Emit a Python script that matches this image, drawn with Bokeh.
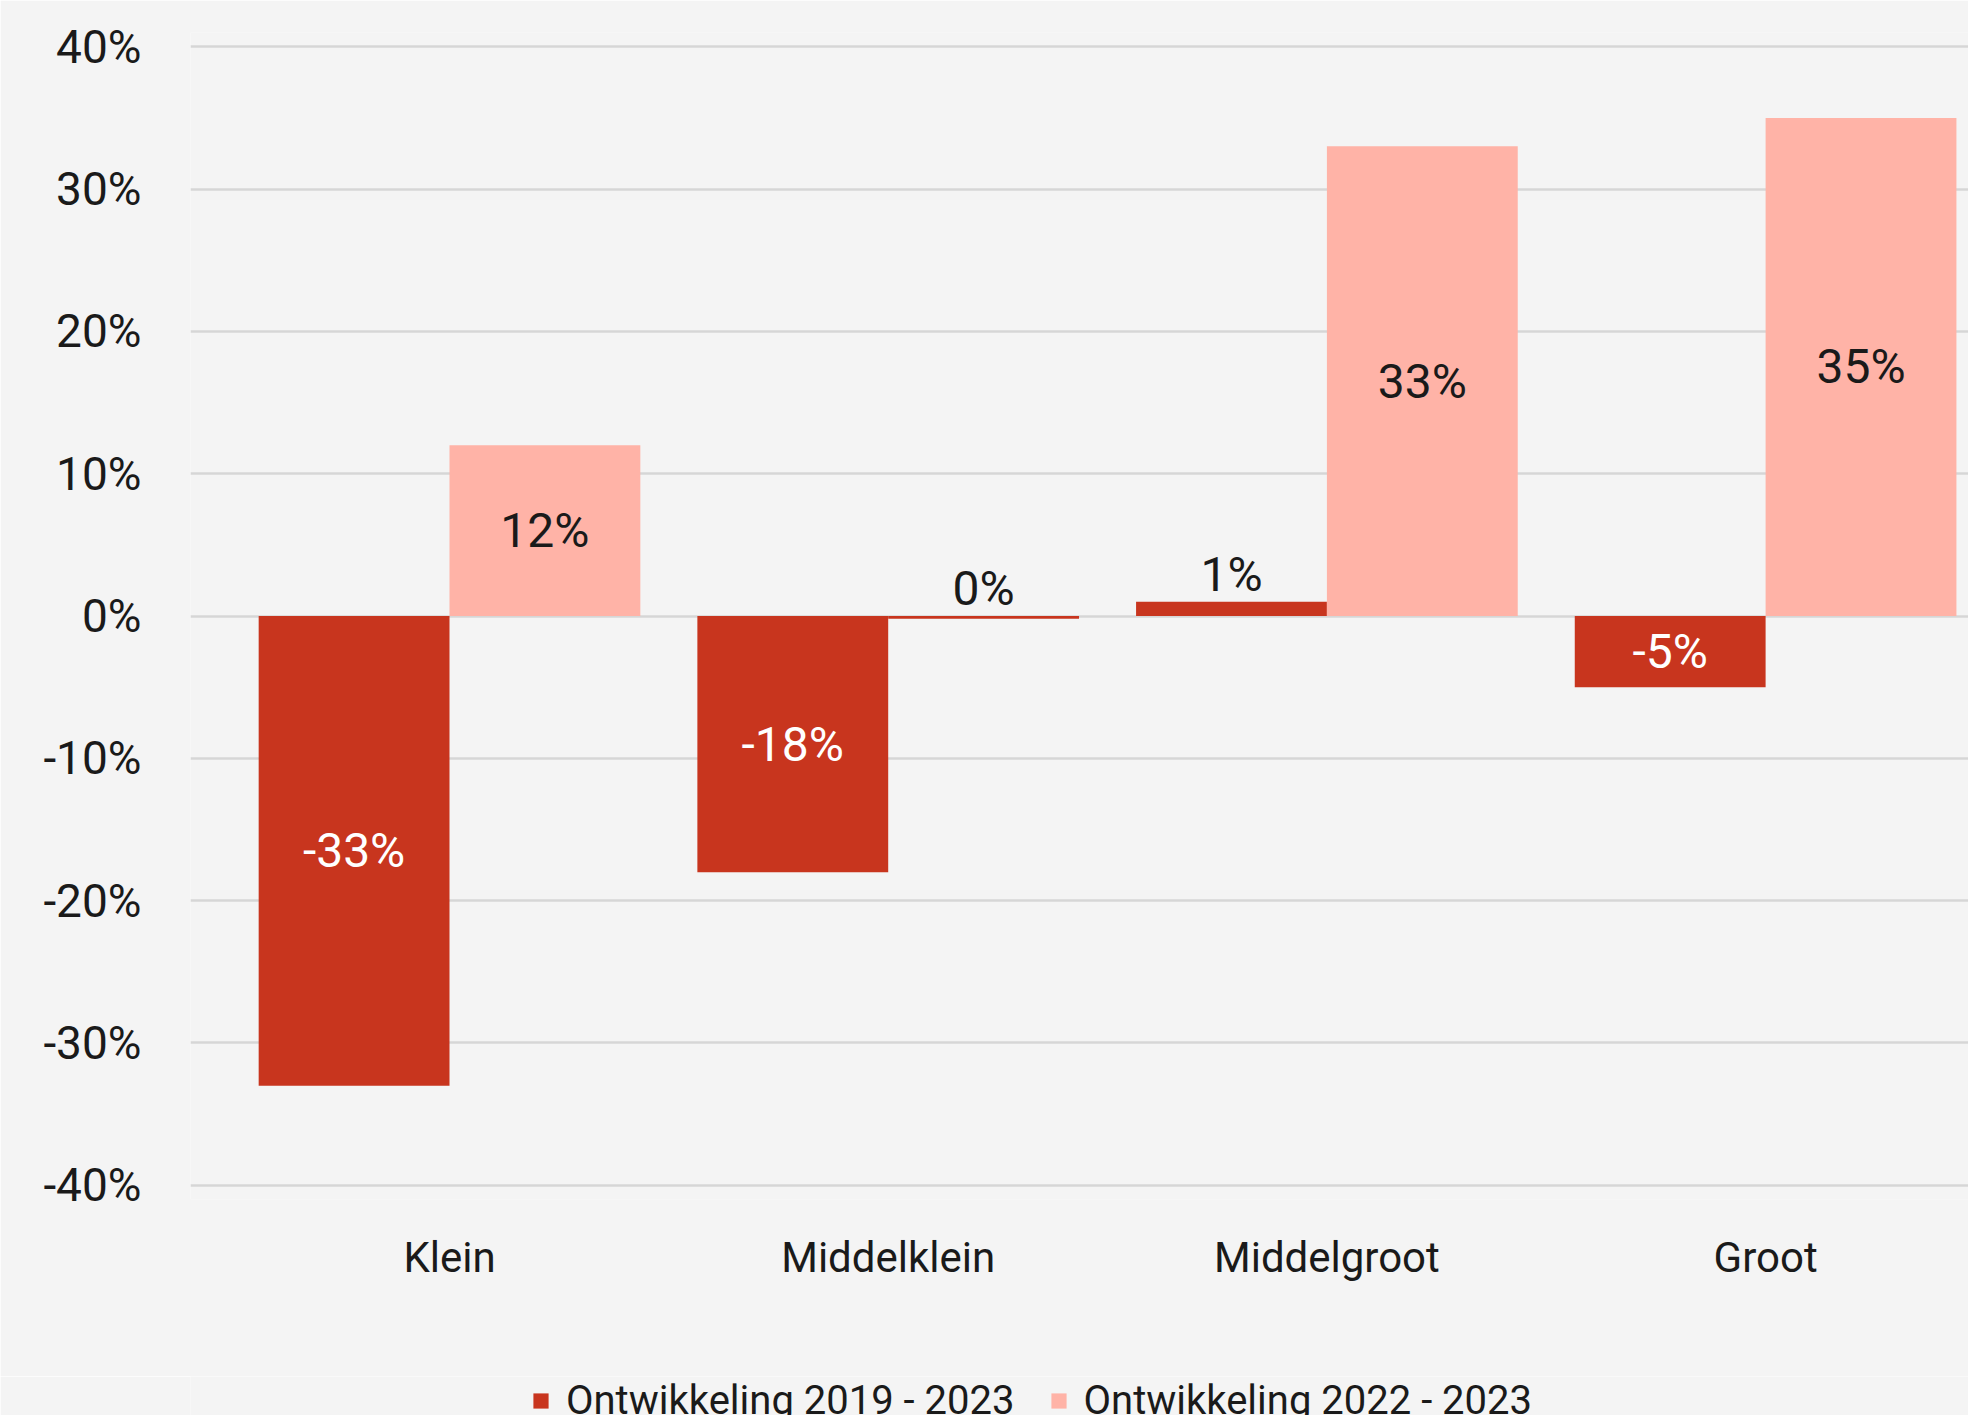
import numpy as np
from bokeh.plotting import figure
from bokeh.layouts import column
from bokeh.models import (ColumnDataSource, Range1d, FixedTicker, PrintfTickFormatter,
                          Legend, LegendItem)
from bokeh.transform import dodge
from bokeh.core.properties import value
from bokeh.embed import file_html
from bokeh.resources import INLINE

# ---------------- data ----------------
categories = ["Klein", "Middelklein", "Middelgroot", "Groot"]
series_labels = ["Ontwikkeling 2019 - 2023", "Ontwikkeling 2022 - 2023"]
ontw_2019_2023 = [-33, -18, 1, -5]
ontw_2022_2023 = [12, -0.2, 33, 35]
y_ticks = [-40, -30, -20, -10, 0, 10, 20, 30, 40]

# ---------------- style ----------------
DARK = "#C8351E"
LIGHT = "#FFB3A7"
BG = "#F4F4F4"
GRID = "#D6D6D6"
TEXT = "#1A1A1A"
FONT = "Roboto"
BAR_W = 0.435
LABEL_PAD = 1.9
INSIDE_MIN = 3

idx = np.arange(len(categories))

p = figure(width=1968, height=1376,
           x_range=Range1d(-0.5904, 3.4625), y_range=Range1d(-41, 41),
           output_backend="svg", toolbar_location=None,
           min_border_left=190, min_border_right=0,
           min_border_top=32, min_border_bottom=177,
           background_fill_color=BG, border_fill_color=BG,
           outline_line_color=None)

src1 = ColumnDataSource(dict(x=idx, top=ontw_2019_2023,
                             color=[DARK] * len(idx)))
src2 = ColumnDataSource(dict(x=idx, top=ontw_2022_2023,
                             color=[LIGHT if v >= 0 else DARK for v in ontw_2022_2023]))

p.vbar(x=dodge("x", -BAR_W / 2, range=p.x_range), top="top", bottom=0,
       width=BAR_W, fill_color="color", line_color=None, source=src1)
p.vbar(x=dodge("x", BAR_W / 2, range=p.x_range), top="top", bottom=0,
       width=BAR_W, fill_color="color", line_color=None, source=src2)

# value labels: inside the bar when it is tall enough, otherwise above it
lab = dict(x=[], y=[], text=[], color=[])
for vals, off, inner_col in ((ontw_2019_2023, -BAR_W / 2, "white"),
                             (ontw_2022_2023, BAR_W / 2, TEXT)):
    for i, v in zip(idx, vals):
        lab["x"].append(i + off)
        lab["text"].append(f"{int(round(v))}%")
        if abs(v) >= INSIDE_MIN:
            lab["y"].append(v / 2)
            lab["color"].append(inner_col)
        else:
            lab["y"].append(max(v, 0) + LABEL_PAD)
            lab["color"].append(TEXT)

p.text(x="x", y="y", text="text", text_color="color", source=ColumnDataSource(lab),
       text_align="center", text_baseline="middle",
       text_font=value(FONT), text_font_size="48px")

# axes
p.xaxis.ticker = FixedTicker(ticks=[int(i) for i in idx])
p.xaxis.major_label_overrides = {int(i): c for i, c in zip(idx, categories)}
p.yaxis.ticker = FixedTicker(ticks=y_ticks)
p.yaxis.formatter = PrintfTickFormatter(format="%d%%")
for ax in (p.xaxis, p.yaxis):
    ax.axis_line_color = None
    ax.major_tick_line_color = None
    ax.minor_tick_line_color = None
    ax.major_tick_out = 0
    ax.major_tick_in = 0
    ax.minor_tick_out = 0
    ax.major_label_text_font = FONT
    ax.major_label_text_color = TEXT
p.yaxis.major_label_text_font_size = "46px"
p.xaxis.major_label_text_font_size = "42px"
p.xaxis.major_label_standoff = 33
p.yaxis.major_label_standoff = 49

p.xgrid.grid_line_color = None
p.ygrid.grid_line_color = GRID
p.ygrid.grid_line_width = 2.5

# ---------------- legend strip (cut off at the bottom like the original) ----------------
# its frame is aligned with the chart's frame (left edge at 190 px)
lg = figure(width=1968, height=39, x_range=Range1d(0, 1), y_range=Range1d(0, 1),
            output_backend="svg", toolbar_location=None,
            x_axis_location=None, y_axis_location=None,
            min_border_left=0, min_border_right=0, min_border_top=0, min_border_bottom=0,
            background_fill_color=BG, border_fill_color=BG, outline_line_color=None)
lg.xgrid.grid_line_color = None
lg.ygrid.grid_line_color = None
# zero-height swatch renderers, only used for the legend keys
k1 = lg.vbar(x=[0.5], top=[0], bottom=[0], width=0.01, fill_color=DARK, line_color=None)
k2 = lg.vbar(x=[0.5], top=[0], bottom=[0], width=0.01, fill_color=LIGHT, line_color=None)

legend = Legend(items=[LegendItem(label=series_labels[0], renderers=[k1]),
                       LegendItem(label=series_labels[1], renderers=[k2])],
                orientation="horizontal", location=(341, -9),
                glyph_width=19, glyph_height=19, label_standoff=16, spacing=34,
                padding=0, margin=0,
                label_text_font=FONT, label_text_font_size="40px",
                label_text_color=TEXT,
                background_fill_alpha=0, border_line_alpha=0)
lg.add_layout(legend)

layout = column(p, lg, spacing=0)
open("out.html", "w").write(file_html(layout, INLINE))
